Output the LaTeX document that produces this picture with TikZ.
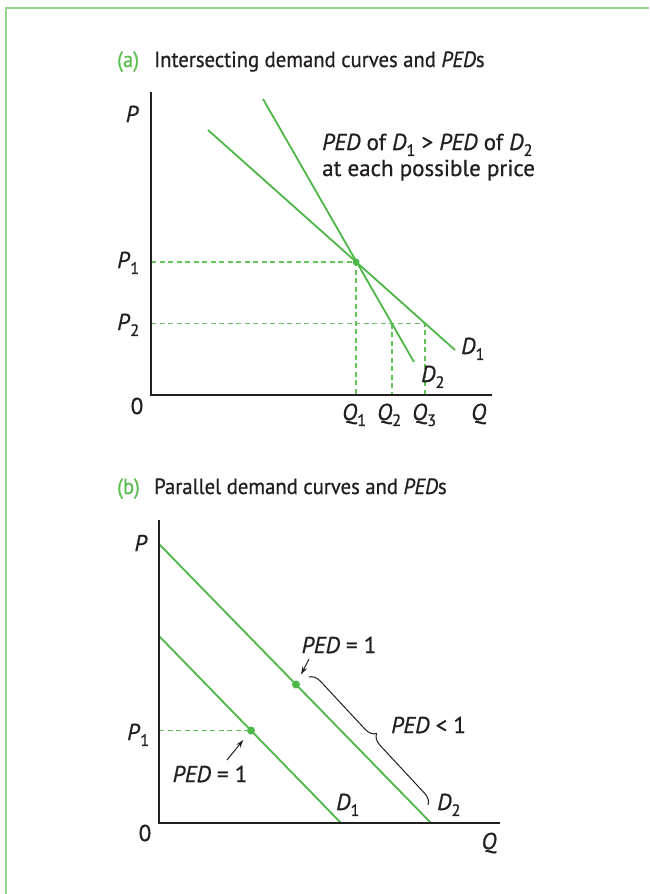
\documentclass[tikz,border=0pt]{standalone}
\usepackage{fontspec}
\setmainfont[FakeBold=0.9,BoldFont={PT Sans Bold}]{PT Sans}
\newfontfamily\labelfont[FakeBold=0.7]{PT Sans}
\newfontfamily\titlefont[FakeStretch=0.94,FakeBold=0.7]{PT Sans}
\usetikzlibrary{decorations.pathreplacing,arrows.meta}
\definecolor{lgreen}{RGB}{77,184,72}
\definecolor{dgreen}{RGB}{100,196,90}
\definecolor{bgreen}{RGB}{150,214,140}
\definecolor{tgreen}{RGB}{90,190,80}
\definecolor{axisc}{RGB}{35,31,32}
\newcommand{\sbs}[1]{\raisebox{-0.26em}{\fontsize{16.5}{16.5}\selectfont #1}}
\begin{document}
\begin{tikzpicture}[x=1pt,y=-1pt,
  every node/.style={inner sep=0pt, text=axisc, font=\labelfont\fontsize{23}{27}\selectfont},
  titletext/.style={font=\titlefont\fontsize{22}{26}\selectfont},
  axisline/.style={axisc, line width=2.2pt},
  dline/.style={lgreen, line width=1.8pt},
  guide/.style={dgreen, line width=1.3pt, dash pattern=on 5pt off 3.5pt},
  dotn/.style={circle, fill=lgreen, minimum size=8pt},
  arr/.style={axisc, line width=1pt, -{Stealth[length=8pt,width=5pt]}},
  bracestyle/.style={axisc, line width=1pt, decorate, decoration={brace, amplitude=11pt}}]
\useasboundingbox (0,0) rectangle (649,894);
\fill[white] (0,0) rectangle (649,894);
% frame
\draw[bgreen, line width=2pt] (6,894) -- (6,8) -- (649,8);

% ---------- panel (a) ----------
\node[titletext, anchor=base west, text=tgreen] (ta) at (117,67) {(a)};
\node[titletext, anchor=base west] (tta) at (154,67) {Intersecting demand curves and \textit{PED}s};

\coordinate (Oa) at (151,395);
\coordinate (Ya) at (151,92);
\coordinate (Xa) at (492,395);
\coordinate (D1a) at (208,130);
\coordinate (D1b) at (455,350);
\coordinate (D2a) at (263,99);
\coordinate (D2b) at (414,362);
\coordinate (E) at (356,262);
\coordinate (P1a) at (151,262);
\coordinate (P2a) at (151,323.5);
\coordinate (G2) at (392,323.5);
\coordinate (G3) at (425,323.5);
\coordinate (Q1a) at (356,395);
\coordinate (Q2a) at (392,395);
\coordinate (Q3a) at (425,395);

\draw[guide] (P1a) -- (E) -- (Q1a);
\draw[guide] (P2a) -- (G3) -- (Q3a);
\draw[guide] (G2) -- (Q2a);
\draw[dline] (D1a) -- (D1b);
\draw[dline] (D2a) -- (D2b);
\node[dotn, minimum size=7pt] (ea) at (E) {};
\draw[axisline] (Ya) -- (Oa) -- (Xa);

\node[anchor=base west] (pedt1) at (322,150) {\textit{PED} of \textit{D}\sbs{1} > \textit{PED} of \textit{D}\sbs{2}};
\node[anchor=base west] (pedt2) at (322,176) {at each possible price};
\node[anchor=base east] (La) at (139,122) {\textit{P}};
\node[anchor=base west] (LP1a) at (117,268) {\textit{P}\sbs{1}};
\node[anchor=base west] (LP2a) at (117,330) {\textit{P}\sbs{2}};
\node (L0a) at (137,406) {0};
\node[anchor=base west] (LQ1) at (342,420) {\textit{Q}\sbs{1}};
\node[anchor=base west] (LQ2) at (377,420) {\textit{Q}\sbs{2}};
\node[anchor=base west] (LQ3) at (412,420) {\textit{Q}\sbs{3}};
\node[anchor=base west] (LQa) at (471,420) {\textit{Q}};
\node[anchor=base west] (LD1a) at (461,354) {\textit{D}\sbs{1}};
\node[anchor=base west] (LD2a) at (421,382) {\textit{D}\sbs{2}};

% ---------- panel (b) ----------
\node[titletext, anchor=base west, text=tgreen] (tb) at (117,494) {(b)};
\node[titletext, anchor=base west] (ttb) at (154,494) {Parallel demand curves and \textit{PED}s};

\coordinate (Ob) at (159,823);
\coordinate (Yb) at (159,520);
\coordinate (Xb) at (500,823);
\coordinate (B2a) at (159,544);
\coordinate (B2b) at (431,823);
\coordinate (B1a) at (159,636);
\coordinate (B1b) at (341,823);
\coordinate (P1b) at (159,730.5);

\draw[dline] (B2a) -- (B2b);
\draw[dline] (B1a) -- (B1b);
\node[dotn] (dot1) at (251,730.5) {};
\node[dotn] (dot2) at (296,684.5) {};
\draw[guide] (P1b) -- (dot1);
\draw[axisline] (Yb) -- (Ob) -- (Xb);

\node (Lb) at (141,543) {\textit{P}};
\node[anchor=base west] (LP1b) at (127,740) {\textit{P}\sbs{1}};
\node (L0b) at (145,833) {0};
\node (LQb) at (489,843) {\textit{Q}};
\node[anchor=base west] (LD1b) at (336,810) {\textit{D}\sbs{1}};
\node[anchor=base west] (LD2b) at (437,810) {\textit{D}\sbs{2}};

\node (pedu) at (339,645) {\textit{PED} = 1};
\node (pedl) at (210,774) {\textit{PED} = 1};
\node[anchor=west] (pedlt) at (391,725) {\textit{PED} < 1};

\coordinate (au) at (309,659);
\coordinate (al) at (227,760);
\draw[arr, shorten >=7pt] (au) -- (dot2);
\draw[arr, shorten >=8pt] (al) -- (dot1);

\coordinate (br1) at (309,677);
\coordinate (br2) at (428,805);
\draw[bracestyle] (br1) -- (br2);
\end{tikzpicture}
\end{document}
